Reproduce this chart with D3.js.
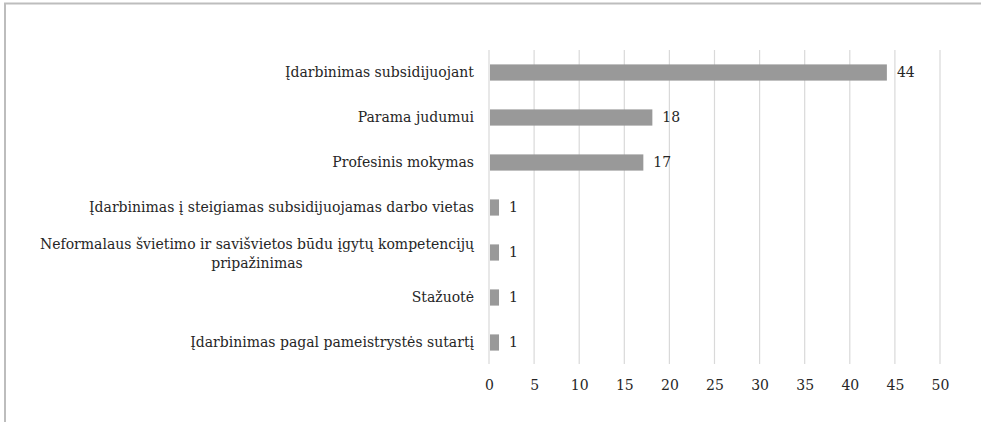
<!DOCTYPE html>
<html>
<head>
<meta charset="utf-8">
<script src="https://cdn.jsdelivr.net/npm/d3@7"></script>
<style>
  html, body { margin: 0; padding: 0; background: #fff; }
  svg { display: block; }
</style>
</head>
<body>
<svg id="chart" width="981" height="422"></svg>
<script>
const categories = [
  "Įdarbinimas subsidijuojant",
  "Parama judumui",
  "Profesinis mokymas",
  "Įdarbinimas į steigiamas subsidijuojamas darbo vietas",
  "Neformalaus švietimo ir savišvietos būdu įgytų kompetencijų|pripažinimas",
  "Stažuotė",
  "Įdarbinimas pagal pameistrystės sutartį"
];
const values = [44, 18, 17, 1, 1, 1, 1];
const tickValues = [0, 5, 10, 15, 20, 25, 30, 35, 40, 45, 50];

const FONT = "'DejaVu Serif', 'Noto Serif', serif";
const FS = "14px";
const svg = d3.select("#chart");

svg.append("rect")
  .attr("x", 5).attr("y", 3.5)
  .attr("width", 1200).attr("height", 600)
  .attr("fill", "none")
  .attr("stroke", "#bdbdbd")
  .attr("stroke-width", 2);

const x = d3.scaleLinear().domain([0, 50]).range([489, 940]);
const y = d3.scaleBand().domain(categories).range([50, 365])
  .paddingInner(0.64).paddingOuter(0.32);

const gridTop = 50, gridBottom = 364;

svg.append("g").selectAll("line").data(tickValues).join("line")
  .attr("x1", d => x(d)).attr("x2", d => x(d))
  .attr("y1", gridTop).attr("y2", gridBottom)
  .attr("stroke", "#d9d9d9").attr("stroke-width", 1.2);

const xAxis = d3.axisBottom(x).tickValues(tickValues).tickSize(0).tickPadding(0);
const gx = svg.append("g").attr("transform", `translate(0,${gridBottom + 16})`).call(xAxis);
gx.attr("font-family", FONT).attr("font-size", FS);
gx.select(".domain").remove();
gx.selectAll("text")
  .attr("font-family", FONT)
  .attr("font-size", FS)
  .attr("fill", "#262626")
  .attr("dy", "0.71em");

svg.append("g").selectAll("rect").data(categories).join("rect")
  .attr("x", x(0) + 1)
  .attr("y", d => y(d))
  .attr("width", (d, i) => x(values[i]) - x(0))
  .attr("height", y.bandwidth())
  .attr("fill", "#999999");

svg.append("g").selectAll("text").data(categories).join("text")
  .attr("x", (d, i) => x(values[i]) + 11)
  .attr("y", d => y(d) + y.bandwidth() / 2)
  .attr("dy", "0.35em")
  .attr("font-family", FONT).attr("font-size", FS).attr("fill", "#262626")
  .text((d, i) => values[i]);

const labelX = 474;
const lg = svg.append("g").attr("font-family", FONT).attr("font-size", FS).attr("fill", "#262626");
categories.forEach(c => {
  const lines = c.split("|");
  const cy = y(c) + y.bandwidth() / 2;
  if (lines.length === 1) {
    lg.append("text")
      .attr("x", labelX).attr("y", cy).attr("dy", "0.35em")
      .attr("text-anchor", "end")
      .text(lines[0]);
  } else {
    const lh = 19;
    const t1 = lg.append("text")
      .attr("x", labelX).attr("y", cy - lh / 2 + 1).attr("dy", "0.35em")
      .attr("text-anchor", "end")
      .text(lines[0]);
    const w = t1.node().getComputedTextLength();
    lg.append("text")
      .attr("x", labelX - w / 2).attr("y", cy + lh / 2 + 1).attr("dy", "0.35em")
      .attr("text-anchor", "middle")
      .text(lines[1]);
  }
});
</script>
</body>
</html>
